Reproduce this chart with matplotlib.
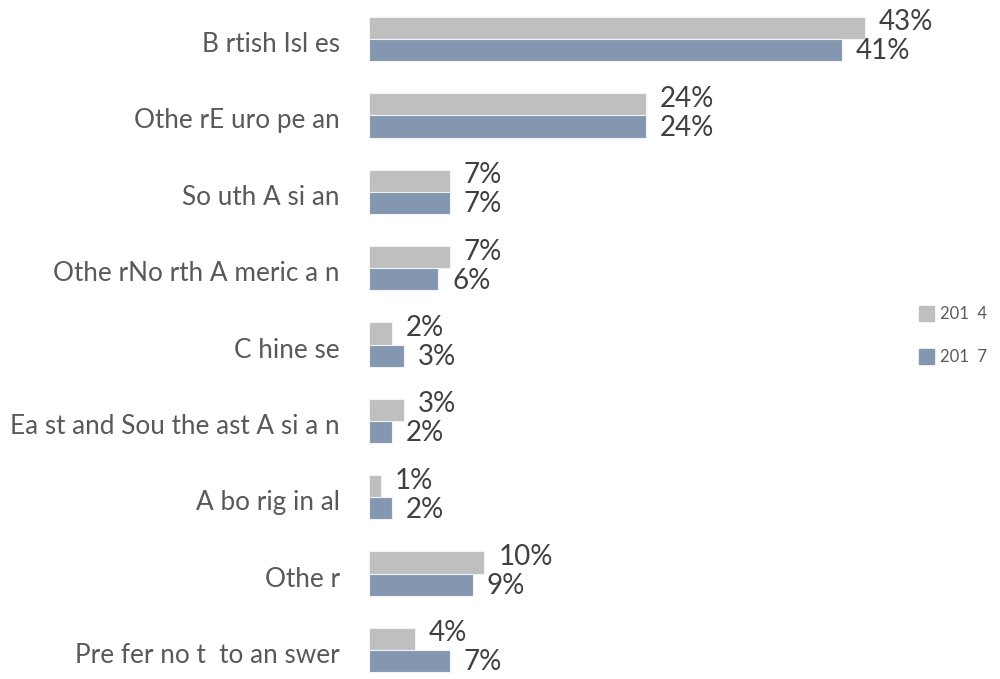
import matplotlib
matplotlib.use("Agg")
import matplotlib.pyplot as plt
from matplotlib.patches import Rectangle

plt.rcParams['font.family'] = ['Lato', 'DejaVu Sans']

categories = ["B rtish Isl es", "Othe rE uro pe an", "So uth A si an",
              "Othe rNo rth A meric a n", "C hine se",
              "Ea st and Sou the ast A si a n", "A bo rig in al",
              "Othe r", "Pre fer no t  to an swer"]
values_2014 = [43, 24, 7, 7, 2, 3, 1, 10, 4]
values_2017 = [41, 24, 7, 6, 3, 2, 2, 9, 7]
series_names = ["201  4", "201  7"]

color_2014 = "#BFBFBF"
color_2017 = "#8497B0"

fig = plt.figure(figsize=(10, 6.79), dpi=100)
ax = fig.add_axes([0.369, 0.0, 0.5767, 1.0])
ax.set_xlim(0, 50)
ax.set_ylim(8.38, -0.511)
ax.axis("off")

h = 0.29
for i, (a, b) in enumerate(zip(values_2014, values_2017)):
    ax.barh(i - h / 2, a, height=h, color=color_2014, edgecolor="#F2F2F2", linewidth=0.8)
    ax.barh(i + h / 2, b, height=h, color=color_2017, edgecolor="#F2F2F2", linewidth=0.8)
    ax.annotate(f"{a}%", (a, i - h / 2), xytext=(10, 4), textcoords="offset points",
                ha="left", va="center", fontsize=20, color="#404040")
    ax.annotate(f"{b}%", (b, i + h / 2), xytext=(10, -1), textcoords="offset points",
                ha="left", va="center", fontsize=20, color="#404040")
    ax.annotate(categories[i], (0, i), xytext=(-21, -4), textcoords="offset points",
                ha="right", va="center", fontsize=18.8, color="#595959")

# legend on the right
for k, (name, col) in enumerate(zip(series_names, [color_2014, color_2017])):
    y = 0.538 - k * 0.0633
    fig.patches.append(Rectangle((0.919, y - 0.011), 0.015, 0.022, color=col,
                                 transform=fig.transFigure))
    fig.text(0.940, y, name, ha="left", va="center", fontsize=12, color="#595959")

fig.savefig("out.png", dpi=100, facecolor="white")
